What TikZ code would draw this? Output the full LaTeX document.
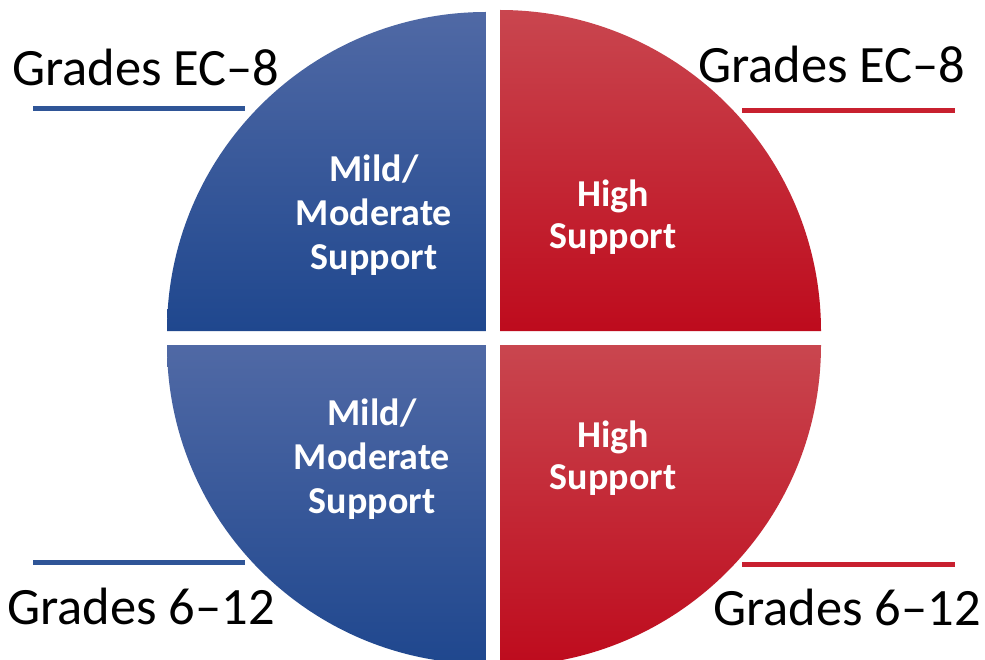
\documentclass[tikz,border=0pt]{standalone}
\usepackage{fontspec}
\setmainfont{Carlito}
\definecolor{bluetop}{HTML}{5069A5}
\definecolor{bluebot}{HTML}{1F478E}
\definecolor{redtop}{HTML}{C9464F}
\definecolor{redbot}{HTML}{BE0B1D}
\definecolor{blueline}{HTML}{2F5597}
\definecolor{redline}{HTML}{C8202F}
\begin{document}
\begin{tikzpicture}[x=1pt,y=1pt,
  bluequad/.style={top color=bluetop,bottom color=bluebot},
  redquad/.style={top color=redtop,bottom color=redbot},
  outer/.style={font=\fontsize{52.5}{60}\selectfont,inner sep=0pt,anchor=base west},
  inner/.style={font=\fontsize{38}{44}\selectfont\bfseries,text=white,inner sep=0pt,anchor=base},
  rule/.style={line width=5pt}]
\useasboundingbox (0,0) rectangle (985,-660);
\fill[white] (0,0) rectangle (985,-660);
% quadrants
\shade[bluequad] (486,-331) -- (167,-331) arc[start angle=180,end angle=90,radius=319] -- cycle;
\shade[redquad] (500,-331) -- (500,-10) arc[start angle=90,end angle=0,radius=321] -- cycle;
\shade[bluequad] (486,-345) -- (167,-345) arc[start angle=180,end angle=270,radius=319] -- cycle;
\shade[redquad] (500,-345) -- (821,-345) arc[start angle=0,end angle=-90,radius=321] -- cycle;
% inner texts
\node[inner] (tl1) at (374,-182) {Mild/};
\node[inner] (tl2) at (374,-226) {Moderate};
\node[inner] (tl3) at (374,-270) {Support};
\node[inner] (tr1) at (613,-207) {High};
\node[inner] (tr2) at (613,-249) {Support};
\node[inner] (bl1) at (372,-425) {Mild/};
\node[inner] (bl2) at (372,-469) {Moderate};
\node[inner] (bl3) at (372,-513) {Support};
\node[inner] (br1) at (613,-447) {High};
\node[inner] (br2) at (613,-489) {Support};
% outer labels
\node[outer] (ltop) at (12,-86) {Grades EC–8};
\node[outer] (rtop) at (698,-83) {Grades EC–8};
\node[outer] (lbot) at (7,-624) {Grades 6–12};
\node[outer] (rbot) at (713,-625) {Grades 6–12};
% rules
\coordinate (a1) at (33,-109); \coordinate (a2) at (245,-109);
\coordinate (b1) at (742,-110.5); \coordinate (b2) at (955,-110.5);
\coordinate (c1) at (33,-562.5); \coordinate (c2) at (245,-562.5);
\coordinate (d1) at (742,-564); \coordinate (d2) at (955,-564);
\draw[rule,blueline] (a1) -- (a2);
\draw[rule,redline] (b1) -- (b2);
\draw[rule,blueline] (c1) -- (c2);
\draw[rule,redline] (d1) -- (d2);
\end{tikzpicture}
\end{document}
